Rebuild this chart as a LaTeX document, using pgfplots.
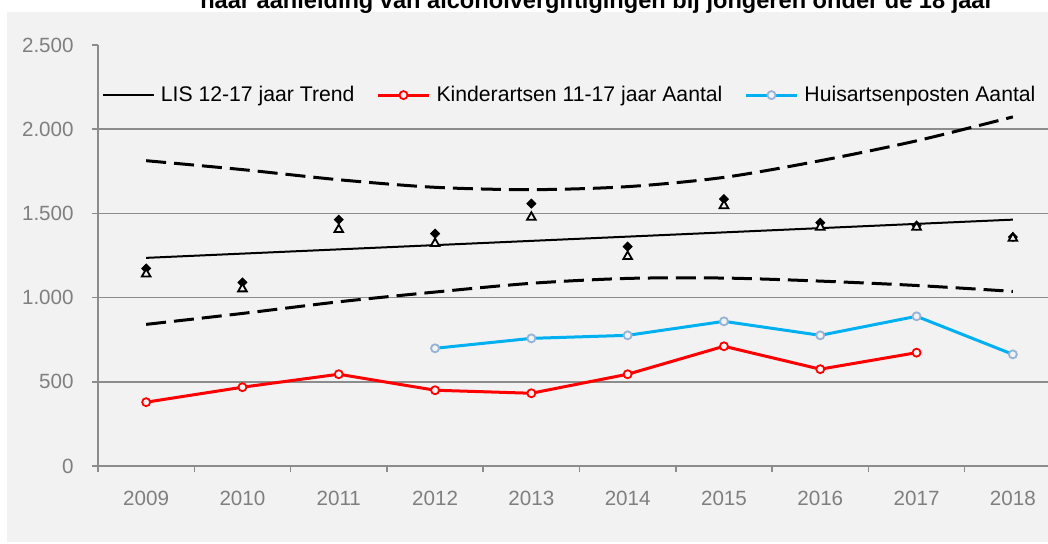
\documentclass[border=0pt]{standalone}
\usepackage{pgfplots}
\pgfplotsset{compat=1.18}
\usepackage{fontspec}
\setmainfont{Liberation Sans}
\definecolor{bg}{HTML}{F2F2F2}
\definecolor{axgray}{HTML}{8C8C8C}
\definecolor{lblgray}{HTML}{7F7F7F}
\definecolor{kred}{HTML}{FF0000}
\definecolor{hblue}{HTML}{00B0F0}
\definecolor{hmark}{HTML}{95B3D7}
\begin{document}
\fontsize{10.3}{12.4}\selectfont
\begin{tikzpicture}
\useasboundingbox (0,0) rectangle (524pt,271.5pt);
\clip (0,0) rectangle (524pt,271.5pt);
\fill[bg] (3.5pt,0.5pt) rectangle (524pt,265.5pt);
\node[anchor=base, font=\fontsize{11.8}{14}\selectfont\bfseries, inner sep=0pt] at (298.5pt,267.5pt) {naar aanleiding van alcoholvergiftigingen bij jongeren onder de 18 jaar};
\begin{axis}[
  at={(49pt,38.5pt)}, anchor=south west,
  scale only axis, width=481.5pt, height=210.5pt,
  xmin=-0.5, xmax=9.5, ymin=0, ymax=2500,
  axis x line*=bottom, axis y line*=left,
  axis line style={axgray, line width=0.75pt},
  tick align=outside, major tick length=3pt,
  tick style={axgray, line width=0.75pt},
  xtick={-0.5,0.5,1.5,2.5,3.5,4.5,5.5,6.5,7.5,8.5,9.5},
  x tick label as interval,
  xticklabels={2009,2010,2011,2012,2013,2014,2015,2016,2017,2018},
  ytick={0,500,1000,1500,2000,2500},
  extra y ticks={500,1000,1500,2000},
  extra y tick labels={},
  extra y tick style={grid=major, major tick length=0pt},
  major grid style={axgray, line width=0.75pt},
  scaled y ticks=false,
  /pgf/number format/.cd, use comma, 1000 sep={.}, assume math mode=true,
  /pgfplots/.cd,
  tick label style={lblgray, inner sep=0pt},
  yticklabel style={anchor=east, xshift=-9pt},
  xticklabel style={anchor=base, yshift=-16.5pt},
  legend columns=3,
  legend cell align=left,
  legend style={at={(0.004,0.881)}, anchor=west, draw=none, fill=none,
    inner sep=0pt, outer sep=0pt,
    font=\fontsize{10.6}{12.4}\selectfont,
    nodes={inner sep=0pt, text=black},
    /tikz/every odd column/.append style={column sep=3pt},
    /tikz/every even column/.append style={column sep=11pt}},
  legend image code/.code={\draw[mark repeat=2,mark phase=2,#1] plot coordinates {(0pt,0pt)(12.75pt,0pt)(25.5pt,0pt)};},
]
% trend
\addplot[black, line width=1pt] coordinates {(0,1236)(9,1463)};
\addlegendentry{LIS 12-17 jaar Trend}
\addplot[kred, line width=1.5pt, mark=*, mark size=2pt, mark options={fill=bg, draw=kred, line width=0.9pt}]
 coordinates {(0,379)(1,468)(2,545)(3,450)(4,432)(5,545)(6,711)(7,575)(8,673)};
\addlegendentry{Kinderartsen 11-17 jaar Aantal}
\addplot[hblue, line width=1.5pt, mark=*, mark size=2pt, mark options={fill=bg, draw=hmark, line width=0.9pt}]
 coordinates {(3,699)(4,758)(5,776)(6,859)(7,776)(8,889)(9,663)};
\addlegendentry{Huisartsenposten Aantal}
% confidence bands
\addplot[forget plot, black, line width=1.5pt, dash pattern=on 10pt off 4pt, smooth]
 coordinates {(0,1813)(1,1760)(2,1700)(3,1655)(4,1641)(5,1659)(6,1714)(7,1813)(8,1931)(9,2073)};
\addplot[forget plot, black, line width=1.5pt, dash pattern=on 10pt off 4pt, smooth]
 coordinates {(0,841)(1,906)(2,975)(3,1033)(4,1085)(5,1114)(6,1116)(7,1098)(8,1072)(9,1037)};
% observed points
\addplot[forget plot, only marks, mark=square*, mark size=1.6pt, mark options={rotate=45}, black]
 coordinates {(0,1173)(1,1090)(2,1463)(3,1380)(4,1558)(5,1303)(6,1585)(7,1445)(8,1428)(9,1360)};
\addplot[forget plot, only marks, mark=triangle*, mark size=2.5pt, mark options={fill=bg, draw=black, line width=0.9pt}]
 coordinates {(0,1140)(1,1052)(2,1404)(3,1321)(4,1477)(5,1244)(6,1546)(7,1418)(8,1418)(9,1352)};
\end{axis}
\end{tikzpicture}
\end{document}
